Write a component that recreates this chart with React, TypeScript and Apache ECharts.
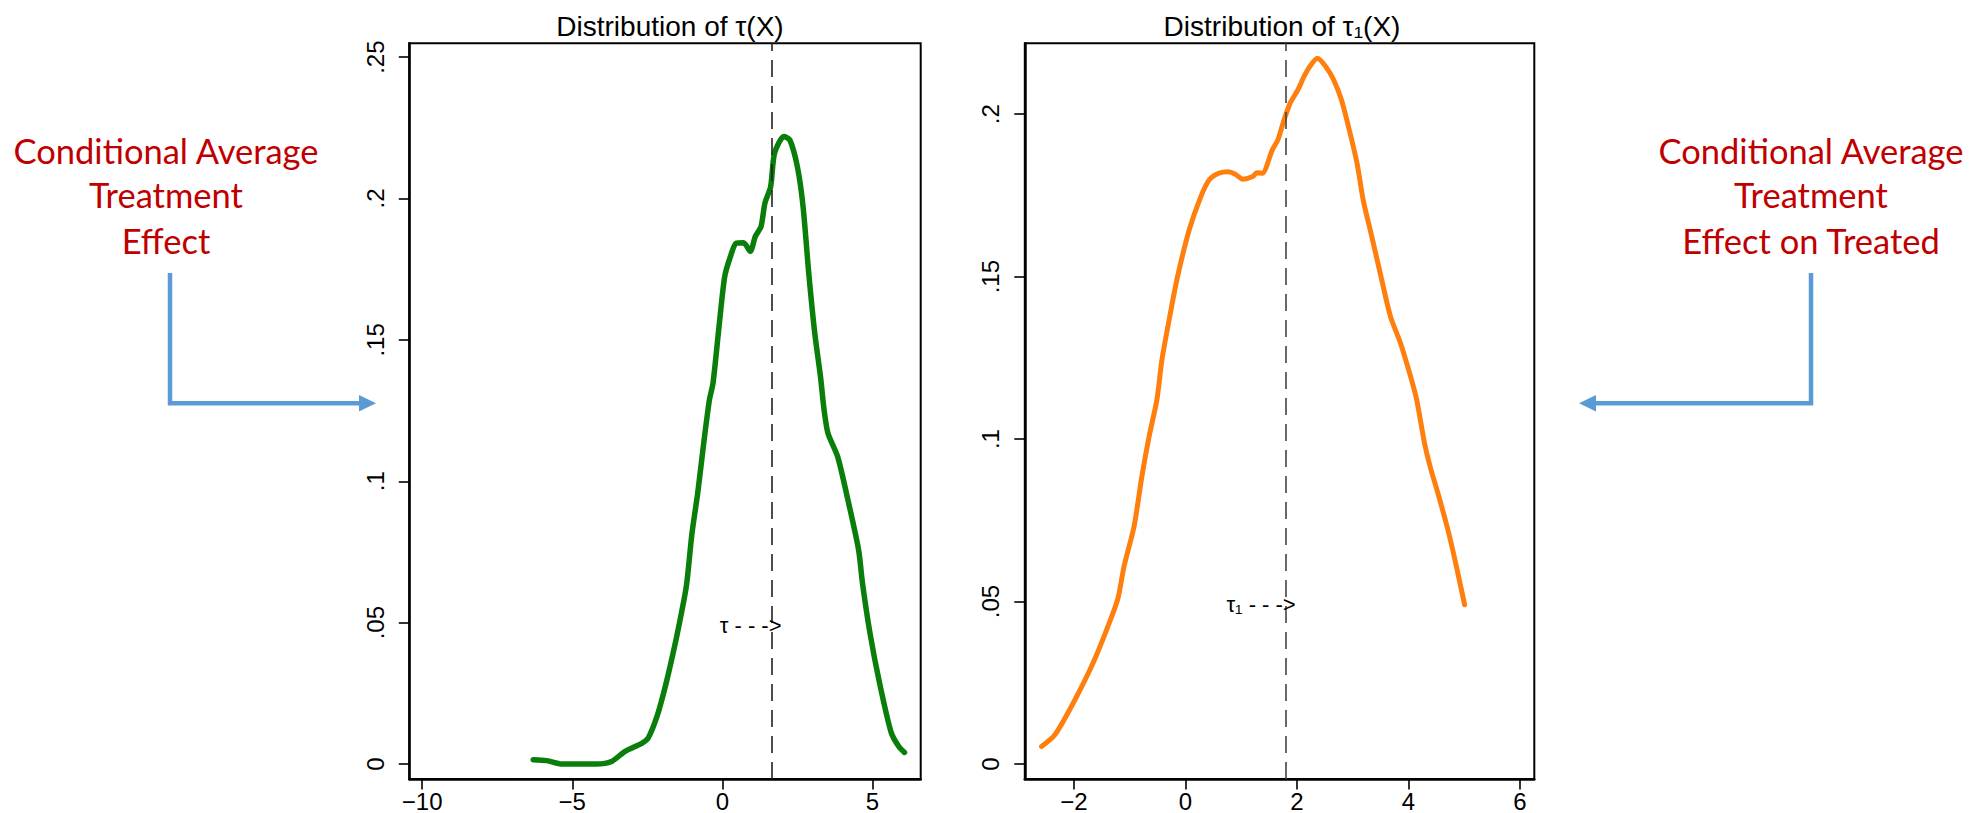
import React, { useEffect, useRef } from "react";
import * as echarts from "echarts";

// ---- data: kernel density of CATE (left) and CATT (right) ----
const CATE_X = [-6.30,-5.85,-5.34,-4.83,-4.20,-3.69,-3.24,-2.67,-2.47,-2.16,-1.90,-1.64,-1.45,-1.20,-1.01,-0.82,-0.62,-0.43,-0.31,-0.11,0.08,0.27,0.46,0.71,0.93,1.10,1.29,1.42,1.61,1.74,2.05,2.25,2.50,2.69,2.88,3.08,3.27,3.39,3.52,3.84,4.16,4.54,4.67,4.92,5.24,5.63,5.88,6.07];
const CATE_Y = [0.0015,0.0012,0,0,0,0.0009,0.0045,0.0074,0.0092,0.0174,0.0274,0.0392,0.0487,0.0628,0.0817,0.0958,0.1135,0.1288,0.1347,0.1547,0.1724,0.1795,0.1842,0.1844,0.1813,0.1866,0.1901,0.1984,0.2042,0.2160,0.2219,0.2207,0.2113,0.1972,0.1736,0.1524,0.1371,0.1253,0.1170,0.1088,0.0946,0.0758,0.0640,0.0463,0.0286,0.0110,0.0062,0.0041];

const CATT_X = [-2.58,-2.34,-1.98,-1.63,-1.31,-1.20,-1.10,-0.92,-0.78,-0.65,-0.51,-0.42,-0.28,-0.14,0.07,0.28,0.43,0.60,0.77,0.89,1.03,1.21,1.28,1.38,1.56,1.66,1.77,1.88,2.02,2.13,2.23,2.37,2.52,2.66,2.80,2.94,3.08,3.19,3.33,3.51,3.68,3.86,4.04,4.15,4.29,4.39,4.53,4.71,4.85,5.01];
const CATT_Y = [0.0054,0.0090,0.0198,0.0321,0.0459,0.0516,0.0608,0.0731,0.0885,0.1008,0.1121,0.1244,0.1377,0.1500,0.1644,0.1747,0.1798,0.1818,0.1823,0.1816,0.1800,0.1808,0.1820,0.1818,0.1890,0.1921,0.1982,0.2034,0.2075,0.2116,0.2146,0.2172,0.2146,0.2106,0.2044,0.1952,0.1849,0.1736,0.1634,0.1500,0.1377,0.1295,0.1193,0.1121,0.0988,0.0916,0.0834,0.0721,0.0618,0.0490];

const TAU = 1.64;      // average effect (dashed line, left)
const TAU1 = 1.80;     // average effect on treated (dashed line, right)
const ANNOT_Y = 0.049; // height of the "τ --->" labels

const TITLE_L = "Distribution of τ(X)";
const TITLE_R = "Distribution of τ\u2081(X)";
const ANNOT_L = "τ - - ->";
const ANNOT_R = "τ\u2081 - - ->";

const X_TICKS_L = [-10, -5, 0, 5];
const X_LABELS_L = ["\u221210", "\u22125", "0", "5"];
const Y_TICKS_L = [0, 0.05, 0.1, 0.15, 0.2, 0.25];
const Y_LABELS_L = ["0", ".05", ".1", ".15", ".2", ".25"];

const X_TICKS_R = [-2, 0, 2, 4, 6];
const X_LABELS_R = ["\u22122", "0", "2", "4", "6"];
const Y_TICKS_R = [0, 0.05, 0.1, 0.15, 0.2];
const Y_LABELS_R = ["0", ".05", ".1", ".15", ".2"];

const NOTE_L = ["Conditional Average", "Treatment", "Effect"];
const NOTE_R = ["Conditional Average", "Treatment", "Effect on Treated"];

const FONT = "Liberation Sans, Arial, Helvetica, sans-serif";
const NOTE_FONT = "Lato, 'Open Sans', sans-serif";

function lookup(ticks: number[], labels: string[]) {
  return (v: number) => {
    for (let i = 0; i < ticks.length; i++) {
      if (Math.abs(ticks[i] - v) < 1e-9) return labels[i];
    }
    return "";
  };
}

function xAxisDef(grid: number, min: number, max: number, ticks: number[], labels: string[]) {
  return {
    type: "value",
    gridIndex: grid,
    min,
    max,
    axisLine: { show: true, onZero: false, lineStyle: { color: "#000", width: 2.5 } },
    axisTick: { show: true, length: 10.5, customValues: ticks, lineStyle: { color: "#000", width: 1.6 } },
    axisLabel: {
      show: true,
      customValues: ticks,
      formatter: lookup(ticks, labels),
      color: "#000",
      fontSize: 24,
      fontFamily: FONT,
      margin: 10,
    },
    splitLine: { show: false },
  };
}

function yAxisDef(grid: number, min: number, max: number, ticks: number[], labels: string[]) {
  return {
    type: "value",
    gridIndex: grid,
    min,
    max,
    axisLine: { show: true, onZero: false, lineStyle: { color: "#000", width: 2.5 } },
    axisTick: { show: true, length: 10.5, customValues: ticks, lineStyle: { color: "#000", width: 1.6 } },
    axisLabel: {
      show: true,
      customValues: ticks,
      formatter: lookup(ticks, labels),
      rotate: 90,
      color: "#000",
      fontSize: 24,
      fontFamily: FONT,
      margin: 22,
    },
    splitLine: { show: false },
  };
}

function curveSeries(idx: number, xs: number[], ys: number[], color: string, width: number, tau: number, note: string, dashColor: string) {
  return {
    type: "line",
    xAxisIndex: idx,
    yAxisIndex: idx,
    data: xs.map((x, i) => [x, ys[i]]),
    showSymbol: false,
    symbol: "none",
    smooth: 0.25,
    lineStyle: { color, width, cap: "round", join: "round" },
    markLine: {
      silent: true,
      symbol: ["none", "none"],
      label: { show: false },
      lineStyle: { type: [17, 9], color: dashColor, width: 1.6 },
      data: [{ xAxis: tau }],
    },
    markPoint: {
      silent: true,
      symbol: "circle",
      symbolSize: 0,
      itemStyle: { color: "transparent" },
      data: [{ coord: [tau, ANNOT_Y] }],
      label: {
        show: true,
        formatter: note,
        position: "inside",
        align: "right",
        verticalAlign: "middle",
        offset: [10, 0],
        color: "#000",
        fontSize: 22,
        fontFamily: FONT,
      },
    },
  };
}

function noteTexts(lines: string[], cx: number) {
  const ys = [150, 194.5, 240];
  return lines.map((t, i) => ({
    type: "text",
    x: cx,
    y: ys[i],
    silent: true,
    style: {
      text: t,
      fill: "#C00000",
      fontSize: 34.5,
      fontFamily: NOTE_FONT,
      align: "center",
      verticalAlign: "middle",
    },
  }));
}

export default function App() {
  const ref = useRef<HTMLDivElement>(null);

  useEffect(() => {
    if (!ref.current) return;
    const chart = echarts.init(ref.current, undefined, { renderer: "svg" });
    const blue = "#5B9BD5";
    const option = {
      animation: false,
      backgroundColor: "#fff",
      title: [
        {
          text: TITLE_L,
          left: 665,
          top: 6,
          textAlign: "center",
          textStyle: { fontSize: 28, fontWeight: "normal", color: "#000", fontFamily: FONT, lineHeight: 30 },
        },
        {
          text: TITLE_R,
          left: 1277,
          top: 6,
          textAlign: "center",
          textStyle: { fontSize: 28, fontWeight: "normal", color: "#000", fontFamily: FONT, lineHeight: 30 },
        },
      ],
      grid: [
        { left: 409.3, top: 43.3, width: 511.4, height: 736, show: true, borderColor: "#000", borderWidth: 2, backgroundColor: "transparent" },
        { left: 1024.8, top: 43.3, width: 509.5, height: 736, show: true, borderColor: "#000", borderWidth: 2, backgroundColor: "transparent" },
      ],
      xAxis: [
        xAxisDef(0, -10.43, 6.61, X_TICKS_L, X_LABELS_L),
        xAxisDef(1, -2.88, 6.26, X_TICKS_R, X_LABELS_R),
      ],
      yAxis: [
        yAxisDef(0, -0.0053, 0.2549, Y_TICKS_L, Y_LABELS_L),
        yAxisDef(1, -0.0046, 0.2218, Y_TICKS_R, Y_LABELS_R),
      ],
      series: [
        curveSeries(0, CATE_X, CATE_Y, "#0A7E0A", 5.5, TAU, ANNOT_L, "#222"),
        curveSeries(1, CATT_X, CATT_Y, "#FF7F0E", 5, TAU1, ANNOT_R, "#444"),
      ],
      graphic: [
        ...noteTexts(NOTE_L, 166),
        ...noteTexts(NOTE_R, 1811),
        {
          type: "polyline",
          silent: true,
          shape: { points: [[170, 273], [170, 403.3], [361, 403.3]] },
          style: { stroke: blue, lineWidth: 4.5, fill: null },
        },
        {
          type: "polygon",
          silent: true,
          shape: { points: [[359, 395], [376, 403.3], [359, 411.6]] },
          style: { fill: blue },
        },
        {
          type: "polyline",
          silent: true,
          shape: { points: [[1811, 273], [1811, 403.3], [1594, 403.3]] },
          style: { stroke: blue, lineWidth: 4.5, fill: null },
        },
        {
          type: "polygon",
          silent: true,
          shape: { points: [[1596, 395], [1579, 403.3], [1596, 411.6]] },
          style: { fill: blue },
        },
      ],
    };
    chart.setOption(option as any);
    return () => chart.dispose();
  }, []);

  return (
    <div
      ref={ref}
      style={{ position: "absolute", left: 0, top: 0, width: 1974, height: 813, background: "#fff" }}
    />
  );
}
